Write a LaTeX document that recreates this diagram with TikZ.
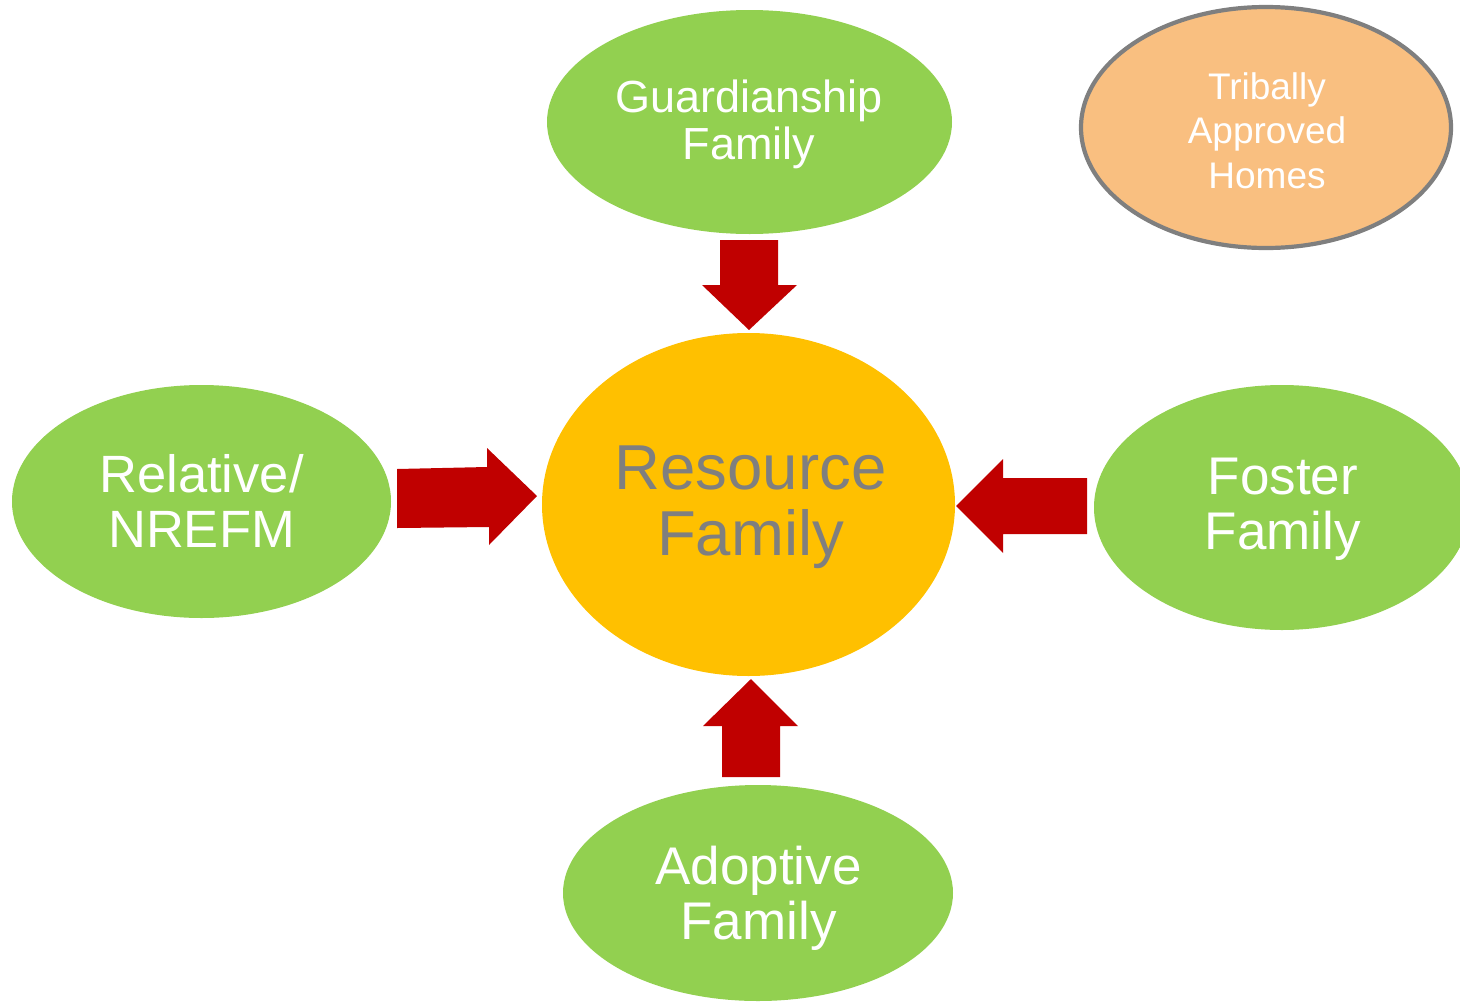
\documentclass[tikz,border=0pt]{standalone}
\usepackage{fontspec}
\setmainfont{Liberation Sans}
\usetikzlibrary{shapes.geometric}
\definecolor{leaf}{HTML}{92D050}
\definecolor{gold}{HTML}{FFC000}
\definecolor{blockred}{HTML}{C00000}
\definecolor{peach}{HTML}{F9BF80}
\definecolor{rim}{HTML}{7F7F7F}
\begin{document}
\begin{tikzpicture}[x=1pt,y=-1pt,
  bubble/.style={ellipse, fill=leaf, draw=none, inner sep=0pt},
  label/.style={anchor=north, inner sep=0pt, align=center, text=white},
  blockarrow/.style={fill=blockred, draw=none}]
\useasboundingbox (0,0) rectangle (1460,1002);
% ellipses
\node[bubble, minimum width=405pt, minimum height=224pt] (guard) at (749.5,122) {};
\node[ellipse, fill=peach, draw=rim, line width=4.2pt, inner sep=0pt, minimum width=370pt, minimum height=241pt] (tribal) at (1266,127.5) {};
\node[ellipse, fill=gold, draw=none, inner sep=0pt, minimum width=413pt, minimum height=343pt] (res) at (748.5,504.5) {};
\node[bubble, minimum width=379pt, minimum height=233pt] (rel) at (201.5,501.5) {};
\node[bubble, minimum width=376pt, minimum height=245pt] (fost) at (1282,507.5) {};
\node[bubble, minimum width=390pt, minimum height=216pt] (adopt) at (758,893) {};
% texts
\node[label, font=\fontsize{45}{47}\selectfont] (guardtxt) at (749,80) {Guardianship\\Family};
\node[label, font=\fontsize{37}{44.5}\selectfont] (tribaltxt) at (1267,72) {Tribally\\Approved\\Homes};
\node[label, text=rim, font=\fontsize{63.5}{66}\selectfont] (restxt) at (750.5,446) {Resource\\Family};
\node[label, font=\fontsize{52.5}{55}\selectfont] (reltxt) at (201.5,454) {Relative/\\NREFM};
\node[label, font=\fontsize{53}{55}\selectfont] (fosttxt) at (1283,458) {Foster\\Family};
\node[label, font=\fontsize{53}{55}\selectfont] (adopttxt) at (758.5,846) {Adoptive\\Family};
% block arrows
\fill[blockarrow] (720,240) -- (778,240) -- (778,285) -- (797,285) -- (749,330) -- (702,285) -- (720,285) -- cycle;
\fill[blockarrow] (397,469) -- (487,467) -- (487,448) -- (537,496) -- (489,545) -- (489,527) -- (397,528) -- cycle;
\fill[blockarrow] (1087,478) -- (1003,478) -- (1003,459) -- (956,506) -- (1003,553) -- (1003,534) -- (1087,534) -- cycle;
\fill[blockarrow] (722,777) -- (722,726) -- (703,726) -- (751,679) -- (798,726) -- (780,726) -- (780,777) -- cycle;
\end{tikzpicture}
\end{document}
